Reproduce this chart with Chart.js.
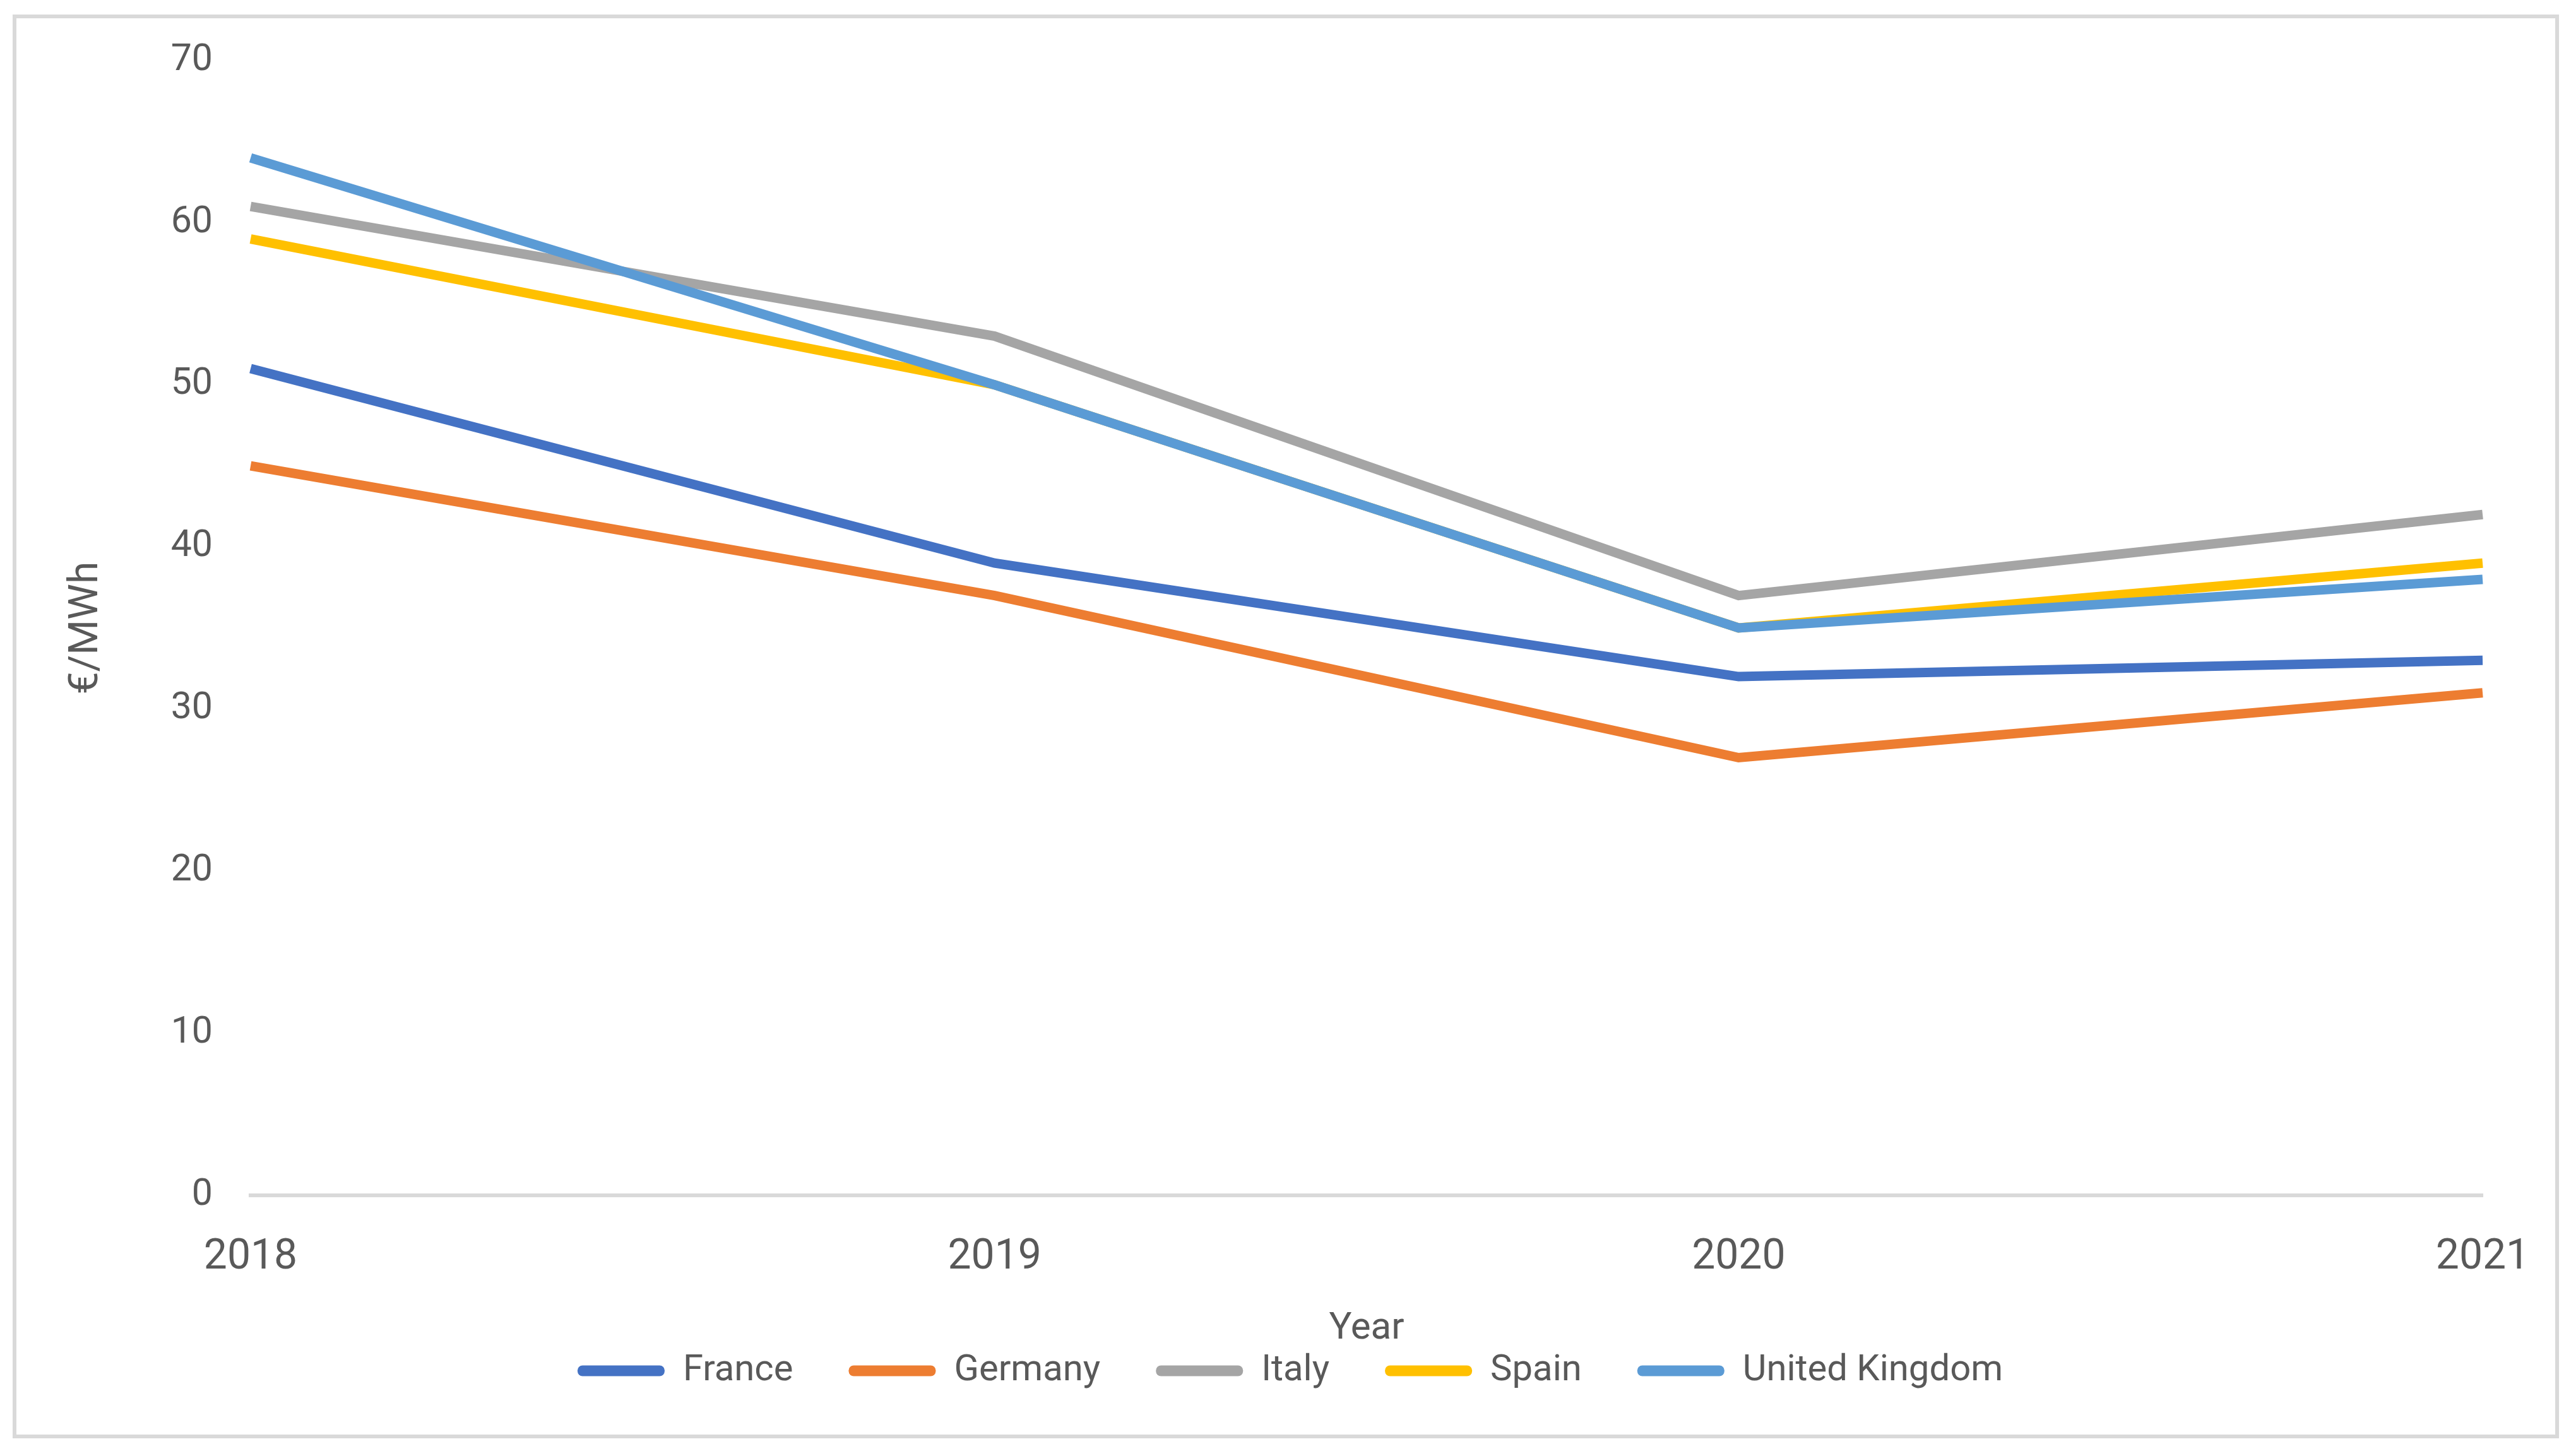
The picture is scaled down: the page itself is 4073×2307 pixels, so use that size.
<!DOCTYPE html>
<html>
<head>
<meta charset="utf-8">
<script src="https://cdn.jsdelivr.net/npm/chart.js@4.4.1/dist/chart.umd.min.js"></script>
<style>
  html, body { margin: 0; padding: 0; background: #fff; }
  #frame { position: absolute; left: 20px; top: 23px; width: 4022px; height: 2244px; border: 6px solid #d9d9d9; }
  #wrap { position: absolute; left: 0; top: 0; width: 4073px; height: 2307px; }
</style>
</head>
<body>
<div id="frame"></div>
<div id="wrap"><canvas id="priceChart"></canvas></div>
<script>
// wholesale electricity price, EUR/MWh
var years   = ["2018", "2019", "2020", "2021"];
var france  = [51, 39, 32, 33];
var germany = [45, 37, 27, 31];
var italy   = [61, 53, 37, 42];
var spain   = [59, 50, 35, 39];
var uk      = [64, 50, 35, 38];

var yMin = 0, yMax = 70, yStep = 10;

var textColor = "#595959";
var fontFamily = "Roboto, 'Open Sans', sans-serif";

function line(label, data, color, order) {
    return {
        label: label,
        data: data,
        borderColor: color,
        backgroundColor: color,
        borderWidth: 15,
        pointRadius: 0,
        tension: 0,
        order: order      // later series drawn on top, like the original
    };
}

var ctx = document.getElementById("priceChart").getContext("2d");
var chart = new Chart(ctx, {
    type: "line",
    data: {
        labels: years,
        datasets: [
            line("France", france, "#4472C4", 5),
            line("Germany", germany, "#ED7D31", 4),
            line("Italy", italy, "#A5A5A5", 3),
            line("Spain", spain, "#FFC000", 2),
            line("United Kingdom", uk, "#5B9BD5", 1)
        ]
    },
    options: {
        responsive: true,
        maintainAspectRatio: false,
        devicePixelRatio: 1,
        animation: false,
        layout: { padding: { top: 96, right: 140, bottom: 96, left: 155 } },
        plugins: {
            tooltip: { enabled: false },
            legend: {
                position: "bottom",
                labels: {
                    color: textColor,
                    font: { family: fontFamily, size: 58 },
                    boxWidth: 138,
                    boxHeight: 17,
                    useBorderRadius: true,
                    borderRadius: 8,
                    padding: 88,
                    sort: function (a, b) { return a.datasetIndex - b.datasetIndex; },
                    generateLabels: function (c) {
                        var items = Chart.defaults.plugins.legend.labels.generateLabels(c);
                        items.forEach(function (it) { it.lineWidth = 0; });
                        return items;
                    }
                }
            }
        },
        scales: {
            x: {
                offset: false,
                grid: { display: false, drawTicks: false },
                border: { display: true, color: "#d9d9d9", width: 6 },
                ticks: {
                    color: textColor,
                    font: { family: fontFamily, size: 66 },
                    padding: 60,
                    maxRotation: 0
                },
                title: {
                    display: true,
                    text: "Year",
                    color: textColor,
                    font: { family: fontFamily, size: 60 },
                    padding: { top: 0, bottom: -87 }
                },
                afterFit: function (scale) { scale.height = 161; }
            },
            y: {
                min: yMin,
                max: yMax,
                grid: { display: false, drawTicks: false },
                border: { display: false },
                ticks: {
                    stepSize: yStep,
                    color: textColor,
                    font: { family: fontFamily, size: 59 },
                    padding: 60
                },
                title: {
                    display: true,
                    text: "€/MWh",
                    color: textColor,
                    font: { family: fontFamily, size: 64 },
                    padding: { top: -55, bottom: 0 }
                },
                afterFit: function (scale) { scale.width = 242; }
            }
        }
    }
});
</script>
</body>
</html>
